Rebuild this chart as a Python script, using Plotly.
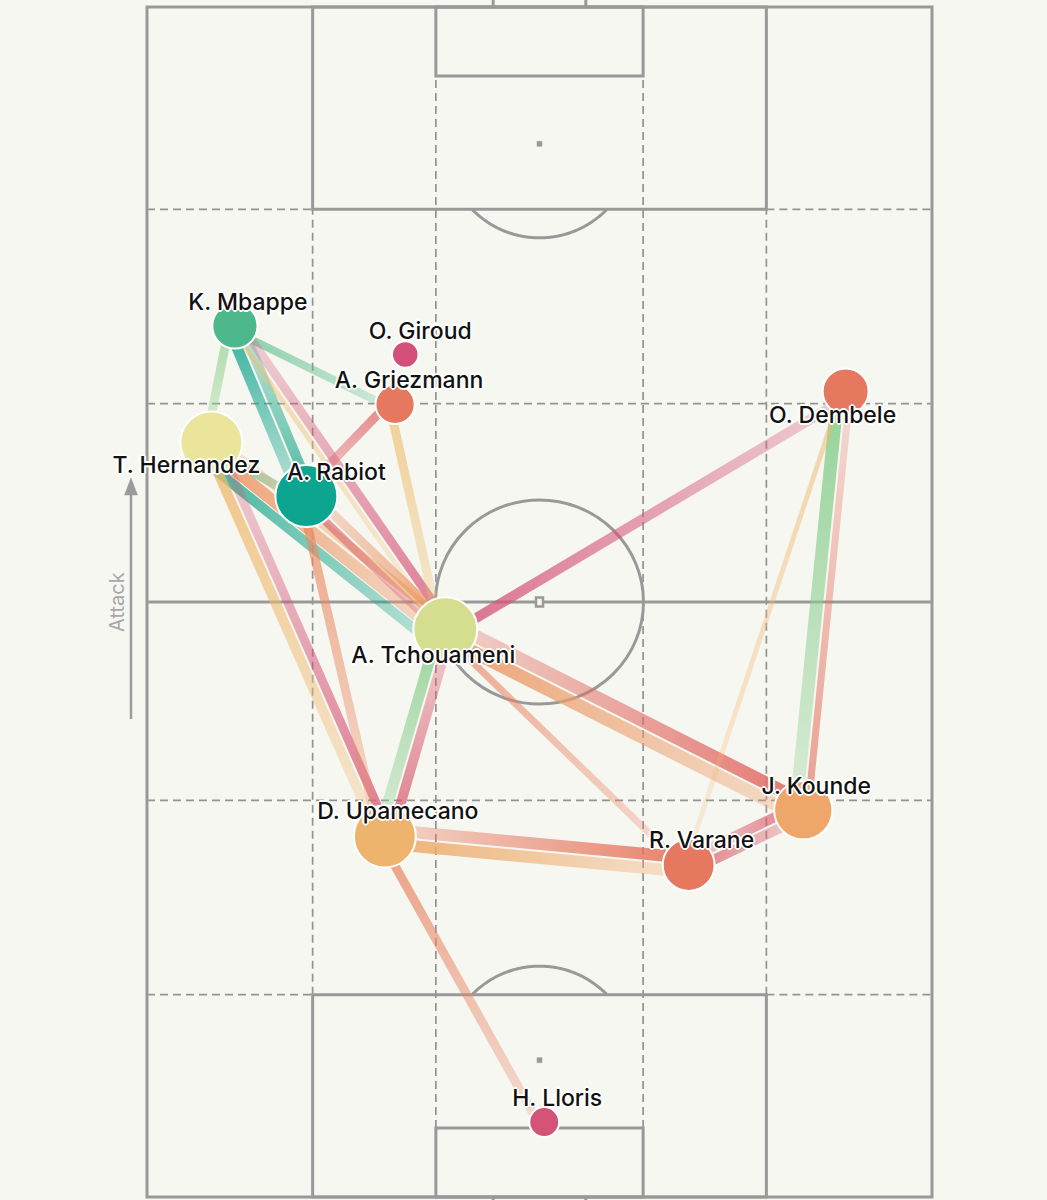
import math
import plotly.graph_objects as go
from plotly.colors import sample_colorscale

# ---------------- data ----------------
players = ["K. Mbappe", "O. Giroud", "A. Griezmann", "O. Dembele", "T. Hernandez",
           "A. Rabiot", "A. Tchouameni", "D. Upamecano", "J. Kounde", "R. Varane", "H. Lloris"]
# average positions: x across the pitch (0 = left touchline, 100 = right),
# y along the pitch (0 = own goal line, 100 = opponent goal line)
avg_x = [11.2, 32.9, 31.6, 89.0, 8.2, 20.3, 38.0, 30.3, 83.6, 69.0, 50.6]
avg_y = [73.2, 70.8, 66.6, 67.7, 63.4, 58.9, 47.7, 30.3, 32.5, 27.9, 6.3]
passes = [32, 11, 24, 33, 60, 60, 64, 60, 53, 42, 14]
node_metric = [0.82, 0.0, 0.2, 0.2, 0.55, 1.0, 0.65, 0.44, 0.38, 0.2, 0.02]

edge_src = ["K. Mbappe", "K. Mbappe", "A. Rabiot", "K. Mbappe", "A. Tchouameni", "K. Mbappe",
            "A. Griezmann", "A. Griezmann", "T. Hernandez", "T. Hernandez", "A. Tchouameni",
            "T. Hernandez", "A. Rabiot", "A. Tchouameni", "T. Hernandez", "D. Upamecano",
            "A. Rabiot", "A. Tchouameni", "D. Upamecano", "A. Tchouameni", "J. Kounde",
            "A. Tchouameni", "A. Tchouameni", "D. Upamecano", "R. Varane", "J. Kounde",
            "R. Varane", "O. Dembele", "J. Kounde", "O. Dembele", "D. Upamecano"]
edge_dst = ["T. Hernandez", "A. Rabiot", "K. Mbappe", "A. Griezmann", "K. Mbappe", "A. Tchouameni",
            "A. Rabiot", "A. Tchouameni", "A. Rabiot", "A. Tchouameni", "T. Hernandez",
            "A. Tchouameni", "A. Tchouameni", "A. Rabiot", "D. Upamecano", "T. Hernandez",
            "D. Upamecano", "D. Upamecano", "A. Tchouameni", "O. Dembele", "A. Tchouameni",
            "J. Kounde", "R. Varane", "R. Varane", "D. Upamecano", "R. Varane",
            "J. Kounde", "J. Kounde", "O. Dembele", "R. Varane", "H. Lloris"]
edge_passes = [9, 11, 10, 8, 9, 5,
               9, 9, 9, 12, 9,
               10, 8, 9, 10, 9,
               9, 11, 10, 10, 13,
               13, 7, 12, 12, 10,
               10, 13, 7, 5, 9]
edge_metric = [0.73, 0.97, 0.92, 0.80, 0.03, 0.47,
               0.12, 0.48, 0.88, 0.33, 0.42,
               0.95, 0.09, 0.30, 0.46, 0.03,
               0.28, 0.74, 0.07, 0.02, 0.15,
               0.34, 0.24, 0.40, 0.20, 0.08,
               0.10, 0.74, 0.18, 0.46, 0.25]

# ---------------- style / geometry ----------------
W, H = 1047, 1200
PX_L, PX_R, PY_T, PY_B = 147, 932, 7, 1197
SX = (PX_R - PX_L) / 100.0
SY = (PY_B - PY_T) / 100.0
BG = "#f7f7f2"
LINE = "#999999"
DASH = "#939393"
FONT = "Inter"

COLORSCALE = [
    [0.00, "#d2507a"],
    [0.20, "#e6785f"],
    [0.38, "#eea66a"],
    [0.46, "#eeb96e"],
    [0.55, "#ebe49b"],
    [0.65, "#d5dd8f"],
    [0.74, "#8ccf90"],
    [0.82, "#4db88c"],
    [1.00, "#0ea590"],
]

LABEL_OFFSET = {
    "K. Mbappe": (13, -22), "O. Giroud": (15, -21), "A. Griezmann": (14, -22),
    "O. Dembele": (-13, 26), "T. Hernandez": (-25, 25), "A. Rabiot": (30, -22),
    "A. Tchouameni": (-12, 28), "D. Upamecano": (13, -23), "J. Kounde": (13, -22),
    "R. Varane": (13, -23), "H. Lloris": (13, -22),
}


def px(x):
    return PX_L + x * SX


def py(y):
    return PY_B - y * SY


def dx(p):
    return (p - PX_L) / SX


def dy(p):
    return (PY_B - p) / SY


def rgba(value, alpha):
    c = sample_colorscale(COLORSCALE, [value])[0]
    nums = c[c.index("(") + 1:c.index(")")].split(",")
    r, g, b = [int(round(float(v))) for v in nums[:3]]
    return f"rgba({r},{g},{b},{alpha:.3f})"


fig = go.Figure()
shapes = []


def sline(x0, y0, x1, y1, color=LINE, width=3, dash=None):
    d = dict(type="line", xref="x", yref="y", x0=x0, y0=y0, x1=x1, y1=y1,
             line=dict(color=color, width=width), layer="below")
    if dash:
        d["line"]["dash"] = dash
    shapes.append(d)


def srect(x0, y0, x1, y1, color=LINE, width=3, fill=None):
    d = dict(type="rect", xref="x", yref="y", x0=x0, y0=y0, x1=x1, y1=y1,
             line=dict(color=color, width=width), layer="below")
    if fill:
        d["fillcolor"] = fill
    shapes.append(d)


# dashed positional-play lines
DSH = "8px,5px"
for xv in (21.1, 78.9):
    sline(xv, 17, xv, 83, DASH, 1.7, DSH)
for xv in (36.8, 63.2):
    sline(xv, 5.8, xv, 94.2, DASH, 1.7, DSH)
for yv in (17, 83):
    sline(0, yv, 21.1, yv, DASH, 1.7, DSH)
    sline(78.9, yv, 100, yv, DASH, 1.7, DSH)
for yv in (33.33, 66.67):
    sline(0, yv, 100, yv, DASH, 1.7, DSH)

# pitch markings
srect(0, 0, 100, 100)
sline(0, 50, 100, 50)
srect(21.1, 83, 78.9, 100)
srect(21.1, 0, 78.9, 17)
srect(36.8, 94.2, 63.2, 100)
srect(36.8, 0, 63.2, 5.8)
# goals
sline(44.1, 100, 44.1, dy(-5))
sline(55.9, 100, 55.9, dy(-5))
sline(44.1, 0, 44.1, dy(H + 5))
sline(55.9, 0, 55.9, dy(H + 5))
# centre circle
shapes.append(dict(type="circle", xref="x", yref="y",
                   x0=50 - 104 / SX, x1=50 + 104 / SX, y0=50 - 102 / SY, y1=50 + 102 / SY,
                   line=dict(color=LINE, width=3), layer="below"))


def arc(cy_data, top):
    cxp, cyp = px(50), py(cy_data)
    R = 94
    limit = py(83) if top else py(17)
    pts = []
    for i in range(0, 721):
        t = math.radians(i * 0.5)
        xx = cxp + R * math.cos(t)
        yy = cyp + R * math.sin(t) if top else cyp - R * math.sin(t)
        if (top and yy > limit) or ((not top) and yy < limit):
            pts.append((dx(xx), dy(yy)))
    path = "M " + " L ".join(f"{a:.4f},{b:.4f}" for a, b in pts)
    shapes.append(dict(type="path", xref="x", yref="y", path=path,
                       line=dict(color=LINE, width=3), layer="below"))


arc(88.5, True)
arc(11.5, False)

# spots
for yc in (88.5, 11.5):
    srect(dx(px(50) - 2.5), dy(py(yc) - 2.5), dx(px(50) + 2.5), dy(py(yc) + 2.5),
          color=LINE, width=0.5, fill=LINE)
srect(dx(px(50) - 3.5), dy(py(50) - 4.5), dx(px(50) + 3.5), dy(py(50) + 4.5),
      color=LINE, width=2.5, fill=BG)

# attack arrow
shapes.append(dict(type="line", xref="x", yref="y", x0=dx(131), y0=dy(719), x1=dx(131), y1=dy(492),
                   line=dict(color="#9b9b9b", width=2.5), layer="below"))
shapes.append(dict(type="path", xref="x", yref="y",
                   path=f"M {dx(131)},{dy(478)} L {dx(124.5)},{dy(495)} L {dx(137.5)},{dy(495)} Z",
                   fillcolor="#9b9b9b", line=dict(color="#9b9b9b", width=0.5), layer="below"))

# ---------------- edges ----------------
idx = {p: i for i, p in enumerate(players)}
lane_used = {}
for s, t, n, m in zip(edge_src, edge_dst, edge_passes, edge_metric):
    i, j = idx[s], idx[t]
    x0p, y0p = px(avg_x[i]), py(avg_y[i])
    x1p, y1p = px(avg_x[j]), py(avg_y[j])
    L = math.hypot(x1p - x0p, y1p - y0p)
    ux, uy = (x1p - x0p) / L, (y1p - y0p) / L
    nx, ny = -uy, ux
    w = float(n)
    base = lane_used.get((s, t), 1.0)
    o_in, o_out = base, base + w
    lane_used[(s, t)] = o_out + 1.0
    corners = [
        (x0p + nx * o_in, y0p + ny * o_in),
        (x0p + nx * o_out, y0p + ny * o_out),
        (x1p + nx * o_out, y1p + ny * o_out),
        (x1p + nx * o_in, y1p + ny * o_in),
        (x0p + nx * o_in, y0p + ny * o_in),
    ]
    a_max = min(0.92, 0.32 + 0.05 * n)
    a_min = 0.25 * a_max + 0.05
    c_src, c_dst = rgba(m, a_max), rgba(m, a_min)
    if abs(x1p - x0p) >= abs(y1p - y0p):
        gtype = "horizontal"
        v0, v1 = dx(x0p), dx(x1p)
    else:
        gtype = "vertical"
        v0, v1 = dy(y0p), dy(y1p)
    if v0 <= v1:
        cs, start, stop = [[0, c_src], [1, c_dst]], v0, v1
    else:
        cs, start, stop = [[0, c_dst], [1, c_src]], v1, v0
    fig.add_trace(go.Scatter(
        x=[dx(a) for a, b in corners], y=[dy(b) for a, b in corners],
        mode="none", fill="toself",
        fillgradient=dict(type=gtype, colorscale=cs, start=start, stop=stop),
        hoverinfo="skip", showlegend=False))

# ---------------- nodes ----------------
fig.add_trace(go.Scatter(
    x=avg_x, y=avg_y, mode="markers",
    marker=dict(size=[8 * math.sqrt(v) for v in passes], color=node_metric,
                colorscale=COLORSCALE, cmin=0, cmax=1,
                line=dict(color="white", width=2), opacity=1),
    text=players, hoverinfo="text", showlegend=False))

# ---------------- labels ----------------
lab_x = [dx(px(avg_x[i]) + LABEL_OFFSET[p][0]) for i, p in enumerate(players)]
lab_y = [dy(py(avg_y[i]) + LABEL_OFFSET[p][1]) for i, p in enumerate(players)]
halo = ", ".join(f"{a}px {b}px 0 #ffffff" for a, b in
                 [(1, 0), (-1, 0), (0, 1), (0, -1), (1, 1), (-1, -1), (1, -1), (-1, 1),
                  (2, 0), (-2, 0), (0, 2), (0, -2)])
fig.add_trace(go.Scatter(
    x=lab_x, y=lab_y, mode="text", text=players, textposition="middle center",
    textfont=dict(family=FONT, size=23, weight=500, color="#111111", shadow=halo),
    hoverinfo="skip", showlegend=False))

fig.add_annotation(x=dx(117), y=dy(602), xref="x", yref="y", text="Attack", showarrow=False,
                   textangle=-90, font=dict(family=FONT, size=20, color="#a8a8a8"))

fig.update_layout(
    width=W, height=H, margin=dict(l=0, r=0, t=0, b=0),
    paper_bgcolor=BG, plot_bgcolor=BG, shapes=shapes,
    xaxis=dict(range=[dx(0), dx(W)], visible=False, fixedrange=True),
    yaxis=dict(range=[dy(H), dy(0)], visible=False, fixedrange=True),
    showlegend=False,
)
fig.write_html("out.html")
